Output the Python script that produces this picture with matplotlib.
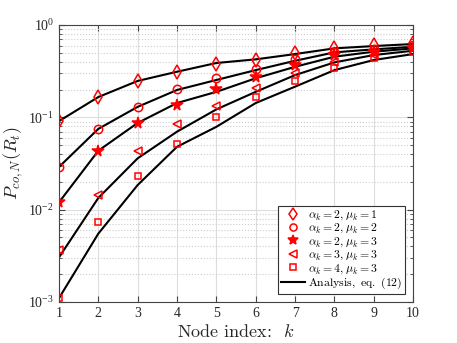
import matplotlib
matplotlib.use("Agg")
import matplotlib.pyplot as plt
import numpy as np

plt.rcParams['font.family'] = ['Liberation Serif', 'DejaVu Serif']
plt.rcParams['mathtext.fontset'] = 'cm'

# Knotenindex
k = np.arange(1, 11)

# Simulation (Marker)
sim_a2_m1 = [0.091, 0.166, 0.25, 0.31, 0.38, 0.418, 0.494, 0.559, 0.607, 0.643]
sim_a2_m2 = [0.029, 0.075, 0.13, 0.201, 0.265, 0.334, 0.425, 0.514, 0.545, 0.607]
sim_a2_m3 = [0.012, 0.0435, 0.087, 0.136, 0.203, 0.275, 0.369, 0.473, 0.514, 0.57]
sim_a3_m3 = [0.0037, 0.0143, 0.043, 0.085, 0.133, 0.21, 0.30, 0.40, 0.473, 0.545]
sim_a4_m3 = [0.0011, 0.0073, 0.0233, 0.052, 0.10, 0.166, 0.247, 0.34, 0.435, 0.514]

# Analyse (Linien)
ana_a2_m1 = [0.091, 0.166, 0.248, 0.312, 0.388, 0.425, 0.485, 0.559, 0.592, 0.623]
ana_a2_m2 = [0.029, 0.075, 0.13, 0.198, 0.254, 0.325, 0.41, 0.506, 0.545, 0.582]
ana_a2_m3 = [0.012, 0.0435, 0.087, 0.143, 0.189, 0.265, 0.353, 0.454, 0.514, 0.559]
ana_a3_m3 = [0.00304, 0.0134, 0.036, 0.070, 0.122, 0.189, 0.287, 0.394, 0.473, 0.527]
ana_a4_m3 = [0.0011, 0.0055, 0.0185, 0.048, 0.079, 0.143, 0.215, 0.325, 0.418, 0.485]

sims = [sim_a2_m1, sim_a2_m2, sim_a2_m3, sim_a3_m3, sim_a4_m3]
anas = [ana_a2_m1, ana_a2_m2, ana_a2_m3, ana_a3_m3, ana_a4_m3]
markers = ['d', 'o', '*', '<', 's']
sizes = [7.5, 6, 8.5, 6, 4.5]
labels = [r'$\alpha_k = 2, \mu_k = 1$', r'$\alpha_k = 2, \mu_k = 2$',
          r'$\alpha_k = 2, \mu_k = 3$', r'$\alpha_k = 3, \mu_k = 3$',
          r'$\alpha_k = 4, \mu_k = 3$']

fig = plt.figure(figsize=(4.57, 3.43), dpi=100)
ax = fig.add_axes([0.129, 0.1195, 0.775, 0.8075])

for ana in anas:
    ax.plot(k, ana, color='black', linewidth=1.5, zorder=2)

for sim, m, s, lab in zip(sims, markers, sizes, labels):
    filled = (m == '*')
    ax.plot(k, sim, linestyle='none', marker=m, markersize=s,
            markerfacecolor='red' if filled else 'none', markeredgecolor='red',
            markeredgewidth=1.1, label=lab, zorder=3)

ax.plot([], [], color='black', linewidth=1.5, label=r'$\mathrm{Analysis,\ eq.\ (12)}$')

ax.set_yscale('log')
ax.set_xlim(1, 10)
ax.set_ylim(1e-3, 1)
ax.set_xticks(k)
ax.set_yticks([1e-3, 1e-2, 1e-1, 1])
ax.tick_params(which='both', direction='in', top=True, right=True,
               labelsize=10, colors='#444444', labelcolor='#262626')
ax.tick_params(which='major', length=4)
ax.tick_params(which='minor', length=2)
ax.grid(True, which='major', color='#dddddd', linewidth=0.8)
ax.grid(True, which='minor', color='#cccccc', linestyle=':', linewidth=0.8)
ax.set_axisbelow(True)
for sp in ax.spines.values():
    sp.set_color('#444444')

ax.set_xlabel(r'Node index:  $k$', fontsize=13, labelpad=2, color='#262626',
              family=['cmr10', 'DejaVu Serif'])
ax.set_ylabel(r'$P_{co,N}(R_t)$', fontsize=13, labelpad=2, color='#262626')

leg = ax.legend(loc='lower right', fontsize=8.5, frameon=True, fancybox=False,
                edgecolor='#333333', framealpha=1, borderpad=0.25,
                labelspacing=0.0, handlelength=2.0, handletextpad=0.25,
                borderaxespad=0.7, markerscale=0.85)
leg.get_frame().set_linewidth(0.8)

fig.savefig('out.png', dpi=100)
